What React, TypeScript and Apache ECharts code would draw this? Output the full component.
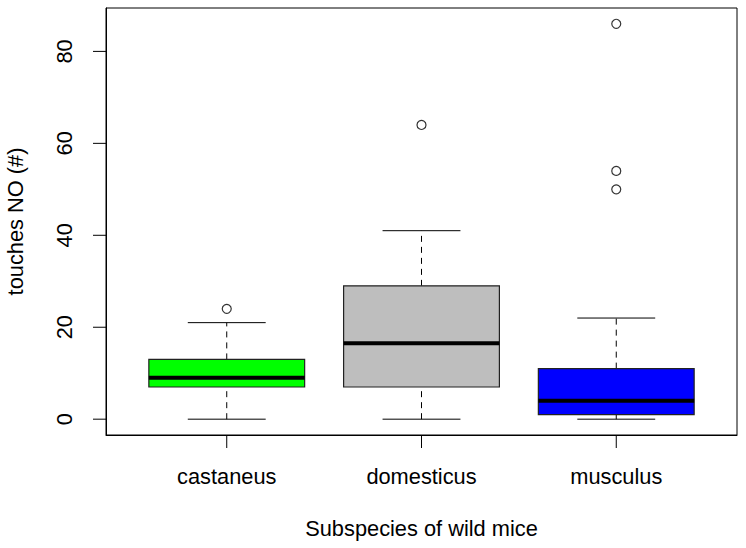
import React, { useEffect, useRef } from "react";
import * as echarts from "echarts";

const categories = ["castaneus", "domesticus", "musculus"];
const whiskerLow = [0, 0, 0];
const q1 = [7, 7, 1];
const median = [9, 16.5, 4];
const q3 = [13, 29, 11];
const whiskerHigh = [21, 41, 22];
const outliers = [[24], [64], [86, 54, 50]];
const boxColors = ["#00FF00", "#BEBEBE", "#0000FF"];
const yTicks = [0, 20, 40, 60, 80];
const xTicks = [1, 2, 3];

const FONT = "'Liberation Sans', Arial, sans-serif";
const FS = 21.8;
const TICK = 13;
const X_MIN = 0.38;
const X_MAX = 3.62;
const Y_MIN = -3.44;
const Y_MAX = 89.44;

export default function App() {
  const ref = useRef<HTMLDivElement>(null);
  useEffect(() => {
    if (!ref.current) return;
    const chart = echarts.init(ref.current, null, { renderer: "svg" });
    const boxData = categories.map((_, i) => [
      i + 1,
      whiskerLow[i],
      q1[i],
      median[i],
      q3[i],
      whiskerHigh[i],
    ]);
    const outlierData: number[][] = [];
    outliers.forEach((arr, i) => arr.forEach((v) => outlierData.push([i + 1, v])));
    const xTickData = xTicks.map((v) => [v, 0]);

    chart.setOption({
      animation: false,
      backgroundColor: "#fff",
      grid: {
        left: 106,
        right: 9,
        top: 8,
        bottom: 113,
        show: true,
        borderColor: "#000",
        borderWidth: 1,
        backgroundColor: "transparent",
        containLabel: false,
        outerBoundsMode: "none",
      },
      xAxis: {
        type: "value",
        min: X_MIN,
        max: X_MAX,
        position: "bottom",
        name: "Subspecies of wild mice",
        nameLocation: "middle",
        nameGap: 82,
        nameTextStyle: { fontFamily: FONT, fontSize: FS, color: "#000" },
        axisLine: { show: true, onZero: false, lineStyle: { color: "#000", width: 1 } },
        splitLine: { show: false },
        axisTick: { show: false },
        axisLabel: {
          customValues: xTicks,
          margin: 30,
          fontFamily: FONT,
          fontSize: FS,
          color: "#000",
          formatter: (v: number) => categories[Math.round(v) - 1] ?? "",
        },
      },
      yAxis: {
        type: "value",
        min: Y_MIN,
        max: Y_MAX,
        position: "left",
        name: "touches NO (#)",
        nameLocation: "middle",
        nameGap: 80,
        nameRotate: 90,
        nameTextStyle: { fontFamily: FONT, fontSize: FS, color: "#000" },
        axisLine: { show: true, onZero: false, lineStyle: { color: "#000", width: 1 } },
        splitLine: { show: false },
        axisTick: { show: false },
        axisLabel: {
          customValues: yTicks,
          rotate: 90,
          margin: 31,
          fontFamily: FONT,
          fontSize: FS,
          color: "#000",
        },
      },
      series: [
        {
          type: "custom",
          clip: false,
          data: boxData,
          encode: { x: 0, y: [1, 2, 3, 4, 5] },
          renderItem: (params: any, api: any) => {
            const cs = params.coordSys;
            const x = api.value(0);
            const lo = api.coord([x, api.value(1)]);
            const b1 = api.coord([x, api.value(2)]);
            const md = api.coord([x, api.value(3)]);
            const b3 = api.coord([x, api.value(4)]);
            const hi = api.coord([x, api.value(5)]);
            const bw = api.size([0.8, 0])[0];
            const cw = api.size([0.4, 0])[0];
            const cx = lo[0];
            const children: any[] = [
              { type: "line", shape: { x1: cx, y1: b3[1], x2: cx, y2: hi[1] }, style: { stroke: "#000", lineWidth: 1, lineDash: [6, 5] } },
              { type: "line", shape: { x1: cx, y1: lo[1], x2: cx, y2: b1[1] }, style: { stroke: "#000", lineWidth: 1, lineDash: [6, 5] } },
              { type: "line", shape: { x1: cx - cw / 2, y1: hi[1], x2: cx + cw / 2, y2: hi[1] }, style: { stroke: "#000", lineWidth: 1 } },
              { type: "line", shape: { x1: cx - cw / 2, y1: lo[1], x2: cx + cw / 2, y2: lo[1] }, style: { stroke: "#000", lineWidth: 1 } },
              {
                type: "rect",
                shape: { x: cx - bw / 2, y: b3[1], width: bw, height: b1[1] - b3[1] },
                style: { fill: boxColors[params.dataIndex], stroke: "#222", lineWidth: 1.2 },
              },
              {
                type: "line",
                shape: { x1: cx - bw / 2, y1: md[1], x2: cx + bw / 2, y2: md[1] },
                style: { stroke: "#000", lineWidth: 4 },
              },
            ];
            if (params.dataIndex === 0) {
              yTicks.forEach((v) => {
                const py = api.coord([x, v])[1];
                children.push({
                  type: "line",
                  shape: { x1: cs.x - TICK, y1: py, x2: cs.x, y2: py },
                  style: { stroke: "#000", lineWidth: 1 },
                });
              });
            }
            return { type: "group", children };
          },
        },
        {
          type: "scatter",
          data: outlierData,
          symbol: "circle",
          symbolSize: 9,
          itemStyle: { color: "#fff", borderColor: "#000", borderWidth: 1.2 },
        },
        {
          type: "custom",
          clip: false,
          silent: true,
          data: xTickData,
          renderItem: (params: any, api: any) => {
            const cs = params.coordSys;
            const px = api.coord([api.value(0), api.value(1)])[0];
            const yb = cs.y + cs.height;
            return {
              type: "line",
              shape: { x1: px, y1: yb, x2: px, y2: yb + TICK },
              style: { stroke: "#000", lineWidth: 1 },
            };
          },
        },
      ],
    });

    return () => chart.dispose();
  }, []);
  return (
    <div
      ref={ref}
      style={{ position: "absolute", left: 0, top: 0, width: 746, height: 548 }}
    />
  );
}
